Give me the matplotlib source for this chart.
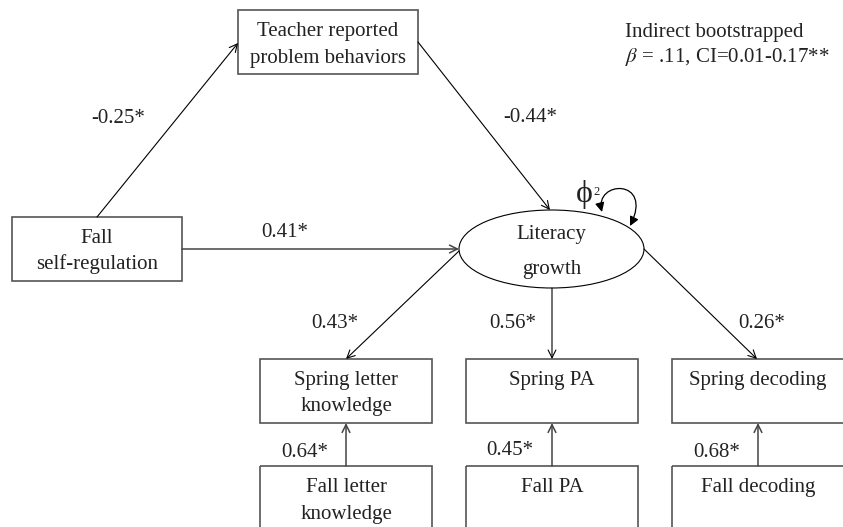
import matplotlib
matplotlib.use("Agg")
import matplotlib.pyplot as plt
from matplotlib.patches import Rectangle, Ellipse, FancyArrowPatch
from matplotlib.path import Path

plt.rcParams['font.family'] = ['Liberation Serif', 'DejaVu Serif']
plt.rcParams['mathtext.fontset'] = 'stix'

# chart content
box_labels = [
    ["Teacher reported", "problem behaviors"],
    ["Fall", "self-regulation"],
    ["Spring letter", "knowledge"],
    ["Spring PA"],
    ["Spring decoding"],
    ["Fall letter", "knowledge"],
    ["Fall PA"],
    ["Fall decoding"],
]
latent_label = ["Literacy", "growth"]
path_coefs = ["-0.25*", "-0.44*", "0.41*", "0.43*", "0.56*", "0.26*", "0.64*", "0.45*", "0.68*"]
note_lines = ["Indirect bootstrapped", r"$\beta$ = .11, CI=0.01-0.17**"]
resid_label = "\u03d5"
resid_power = "2"

# layout in pixel coordinates (x0, y0, x1, y1)
boxes = [
    (238, 10, 418, 74),
    (12, 217, 182, 281),
    (260, 359, 432, 423),
    (466, 359, 638, 423),
    (672, 359, 844, 423),
    (260, 466, 432, 545),
    (466, 466, 638, 545),
    (672, 466, 844, 545),
]
ell_c, ell_w, ell_h = (551.5, 249), 185, 78

arrows = [
    ((97, 217), (238, 43)),
    ((418, 42), (550, 210)),
    ((182, 249), (459, 249)),
    ((459, 251), (346, 359)),
    ((552, 288), (552, 359)),
    ((644, 249), (757, 359)),
    ((346, 466), (346, 423)),
    ((552, 466), (552, 423)),
    ((758, 466), (758, 423)),
]
coef_pos = [(118, 123), (530, 122), (285, 237), (335, 328), (513, 328),
            (762, 328), (305, 457), (510, 455), (717, 457)]

fig = plt.figure(figsize=(8.43, 5.27), dpi=100)
ax = fig.add_axes([0, 0, 1, 1])
ax.set_xlim(0, 843)
ax.set_ylim(527, 0)
ax.axis("off")

fs = 15
tc = "#222222"

for (x0, y0, x1, y1), lines in zip(boxes, box_labels):
    ax.add_patch(Rectangle((x0, y0), x1 - x0, y1 - y0, fill=False,
                           ec="#555555", lw=1.2))
    cx = (x0 + x1) / 2
    for k, s in enumerate(lines):
        ax.text(cx, y0 + 26 + 26.5 * k, s, ha="center", va="baseline",
                fontsize=fs, color=tc)

ax.add_patch(Ellipse(ell_c, ell_w, ell_h, fill=False, ec="black", lw=0.8))
ax.text(ell_c[0], 239, latent_label[0], ha="center", va="baseline", fontsize=fs, color=tc)
ax.text(ell_c[0], 274, latent_label[1], ha="center", va="baseline", fontsize=fs, color=tc)

for i, (a, b) in enumerate(arrows):
    thick = i in (2, 6, 7, 8)
    ax.add_patch(FancyArrowPatch(a, b, arrowstyle="->", mutation_scale=14,
                                 shrinkA=0, shrinkB=0,
                                 lw=1.1 if thick else 0.8,
                                 color="#444444" if thick else "black"))

for (x, y), s in zip(coef_pos, path_coefs):
    ax.text(x, y, s, ha="center", va="baseline", fontsize=fs, color=tc)

# residual variance loop
loop = Path([(602, 212), (594, 180), (654, 178), (630, 226)],
            [Path.MOVETO, Path.CURVE4, Path.CURVE4, Path.CURVE4])
ax.add_patch(FancyArrowPatch(path=loop, arrowstyle="<|-|>,head_length=0.5,head_width=0.25",
                             mutation_scale=11, lw=0.9, color="black"))
ax.text(584, 202, resid_label, ha="center", va="baseline", fontsize=23, color=tc)
ax.text(593, 195, resid_power, ha="left", va="baseline", fontsize=9, color=tc)

ax.text(625, 37, note_lines[0], ha="left", va="baseline", fontsize=fs, color=tc)
ax.text(625, 62, note_lines[1], ha="left", va="baseline", fontsize=fs, color=tc)

fig.savefig("out.png", dpi=100)
